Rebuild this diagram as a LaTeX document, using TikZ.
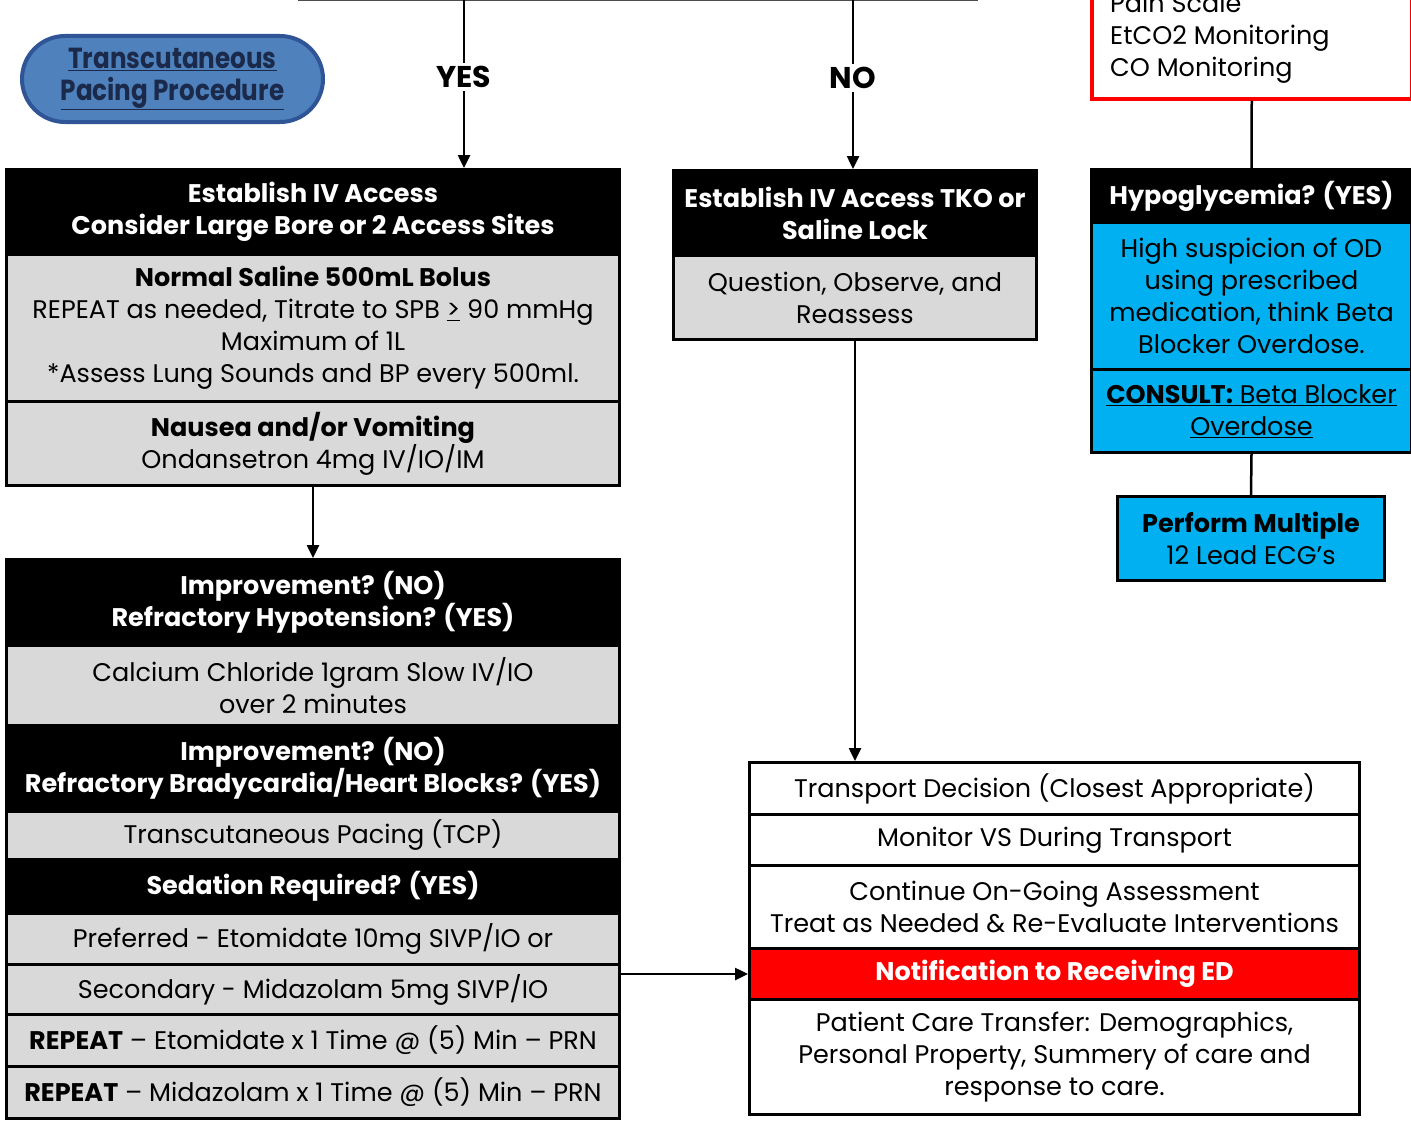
\documentclass[tikz,border=0pt]{standalone}
\usepackage{fontspec}
\setmainfont{Poppins}
\newfontfamily\narrowfont[FakeStretch=0.85]{Poppins}
\usetikzlibrary{arrows.meta}
\definecolor{cellgray}{HTML}{D9D9D9}
\definecolor{cellblue}{HTML}{00B0F0}
\definecolor{alertred}{HTML}{FF0000}
\definecolor{pillfill}{HTML}{4F81BD}
\definecolor{pilledge}{HTML}{2F5597}
\definecolor{pilltext}{HTML}{1B2A4A}
\newcommand{\bodyfont}{\fontsize{25.5}{32}\selectfont}
\tikzset{
  cell/.style={draw=black, line width=3pt, inner sep=0pt, align=center,
    anchor=north west, font=\bodyfont},
  hdr/.style={cell, fill=black, text=white, font=\bodyfont\bfseries},
  graycell/.style={cell, fill=cellgray},
  bluecell/.style={cell, fill=cellblue},
  whitecell/.style={cell, fill=white},
  flow/.style={line width=2.5pt, -{Triangle[length=13pt,width=12pt]}},
  link/.style={line width=2.5pt},
  choice/.style={fill=white, inner sep=3pt, font=\fontsize{30}{34}\selectfont\bfseries},
}
\begin{document}
\begin{tikzpicture}[x=1pt,y=-1pt]
\useasboundingbox (0,0) rectangle (1411,1124);
\clip (0,0) rectangle (1411,1124);

% incoming split line
\coordinate (splitL) at (298,0);
\coordinate (splitR) at (978,0);
\coordinate (yesTop) at (464,0);
\coordinate (noTop) at (853,0);
\draw[line width=2pt, black!70] (splitL) -- (splitR);

% procedure link
\node[draw=pilledge, line width=4pt, fill=pillfill, rounded corners=43pt,
  minimum width=301pt, minimum height=86pt, inner sep=0pt, align=center,
  text=pilltext, font=\fontsize{29}{32}\selectfont\bfseries\narrowfont]
  (pacing) at (172.5,79) {\underline{Transcutaneous}\\\underline{Pacing Procedure}};

% YES branch
\node[hdr, minimum width=613pt, minimum height=85pt] (ivA) at (5,168)
  {Establish IV Access\\Consider Large Bore or 2 Access Sites};
\node[graycell, minimum width=613pt, minimum height=147pt] (saline) at (5,253)
  {\textbf{Normal Saline 500mL Bolus}\\REPEAT as needed, Titrate to SPB \underline{>} 90 mmHg\\Maximum of 1L\\*Assess Lung Sounds and BP every 500ml.};
\node[graycell, minimum width=613pt, minimum height=84pt] (nausea) at (5,400)
  {\textbf{Nausea and/or Vomiting}\\Ondansetron 4mg IV/IO/IM};

\node[hdr, minimum width=613pt, minimum height=86pt] (hypoT) at (5,558)
  {Improvement? (NO)\\Refractory Hypotension? (YES)};
\node[graycell, minimum width=613pt, minimum height=80pt] (calcium) at (5,644)
  {Calcium Chloride 1gram Slow IV/IO\\over 2 minutes};
\node[hdr, minimum width=613pt, minimum height=86pt] (brady) at (5,724)
  {Improvement? (NO)\\Refractory Bradycardia/Heart Blocks? (YES)};
\node[graycell, minimum width=613pt, minimum height=48pt] (tcp) at (5,810)
  {Transcutaneous Pacing (TCP)};
\node[hdr, minimum width=613pt, minimum height=54pt] (sedation) at (5,858)
  {Sedation Required? (YES)};
\node[graycell, minimum width=613pt, minimum height=51pt] (etom) at (5,912)
  {Preferred - Etomidate 10mg SIVP/IO or};
\node[graycell, minimum width=613pt, minimum height=50pt] (midaz) at (5,963)
  {Secondary - Midazolam 5mg SIVP/IO};
\node[graycell, minimum width=613pt, minimum height=52pt] (repE) at (5,1013)
  {\textbf{REPEAT} – Etomidate x 1 Time @ (5) Min – PRN};
\node[graycell, minimum width=613pt, minimum height=52pt] (repM) at (5,1065)
  {\textbf{REPEAT} – Midazolam x 1 Time @ (5) Min – PRN};

% NO branch
\node[hdr, minimum width=363pt, minimum height=85pt] (tko) at (672,169)
  {Establish IV Access TKO or\\Saline Lock};
\node[graycell, minimum width=363pt, minimum height=84pt] (observe) at (672,254)
  {Question, Observe, and\\Reassess};

% monitoring list
\node[draw=alertred, line width=3.5pt, fill=white, anchor=north west,
  minimum width=320pt, minimum height=157pt, inner sep=0pt] (monitor) at (1090,-60) {};
\node[anchor=north west, align=left, font=\bodyfont, inner sep=0pt]
  (monitorText) at (1110,-7) {Pain Scale\\EtCO2 Monitoring\\CO Monitoring};

% hypoglycemia column
\node[hdr, minimum width=320pt, minimum height=53pt] (hypoG) at (1090,168)
  {Hypoglycemia? (YES)};
\node[bluecell, minimum width=320pt, minimum height=147pt] (suspect) at (1090,221)
  {High suspicion of OD\\using prescribed\\medication, think Beta\\Blocker Overdose.};
\node[bluecell, minimum width=320pt, minimum height=83pt] (consult) at (1090,368)
  {\underline{\textbf{CONSULT:} Beta Blocker}\\\underline{Overdose}};
\node[bluecell, minimum width=267pt, minimum height=84pt] (ecg) at (1116,495)
  {\textbf{Perform Multiple}\\12 Lead ECG’s};

% transport column
\node[whitecell, minimum width=610pt, minimum height=52pt] (transport) at (748,761)
  {Transport Decision (Closest Appropriate)};
\node[whitecell, minimum width=610pt, minimum height=51pt] (vitals) at (748,813)
  {Monitor VS During Transport};
\node[whitecell, minimum width=610pt, minimum height=83pt] (ongoing) at (748,864)
  {Continue On-Going Assessment\\Treat as Needed \& Re-Evaluate Interventions};
\node[cell, fill=alertred, text=white, font=\bodyfont\bfseries,
  minimum width=610pt, minimum height=51pt] (notify) at (748,947)
  {Notification to Receiving ED};
\node[whitecell, minimum width=610pt, minimum height=115pt] (handoff) at (748,998)
  {Patient Care Transfer: Demographics,\\Personal Property, Summery of care and\\response to care.};

% connectors
\draw[flow] (yesTop) -- (yesTop |- ivA.north)
  node[choice, pos=0.46] (yesLbl) {YES};
\draw[flow] (noTop) -- (noTop |- tko.north)
  node[choice, pos=0.46] (noLbl) {NO};
\draw[flow] (nausea.south) -- (hypoT.north);
\draw[flow] (observe.south) -- (observe.south |- transport.north);
\draw[flow] (notify.west -| midaz.east) -- (notify.west);
\draw[link] (monitor.south) -- (hypoG.north);
\draw[link] (consult.south) -- (ecg.north);
\end{tikzpicture}
\end{document}
